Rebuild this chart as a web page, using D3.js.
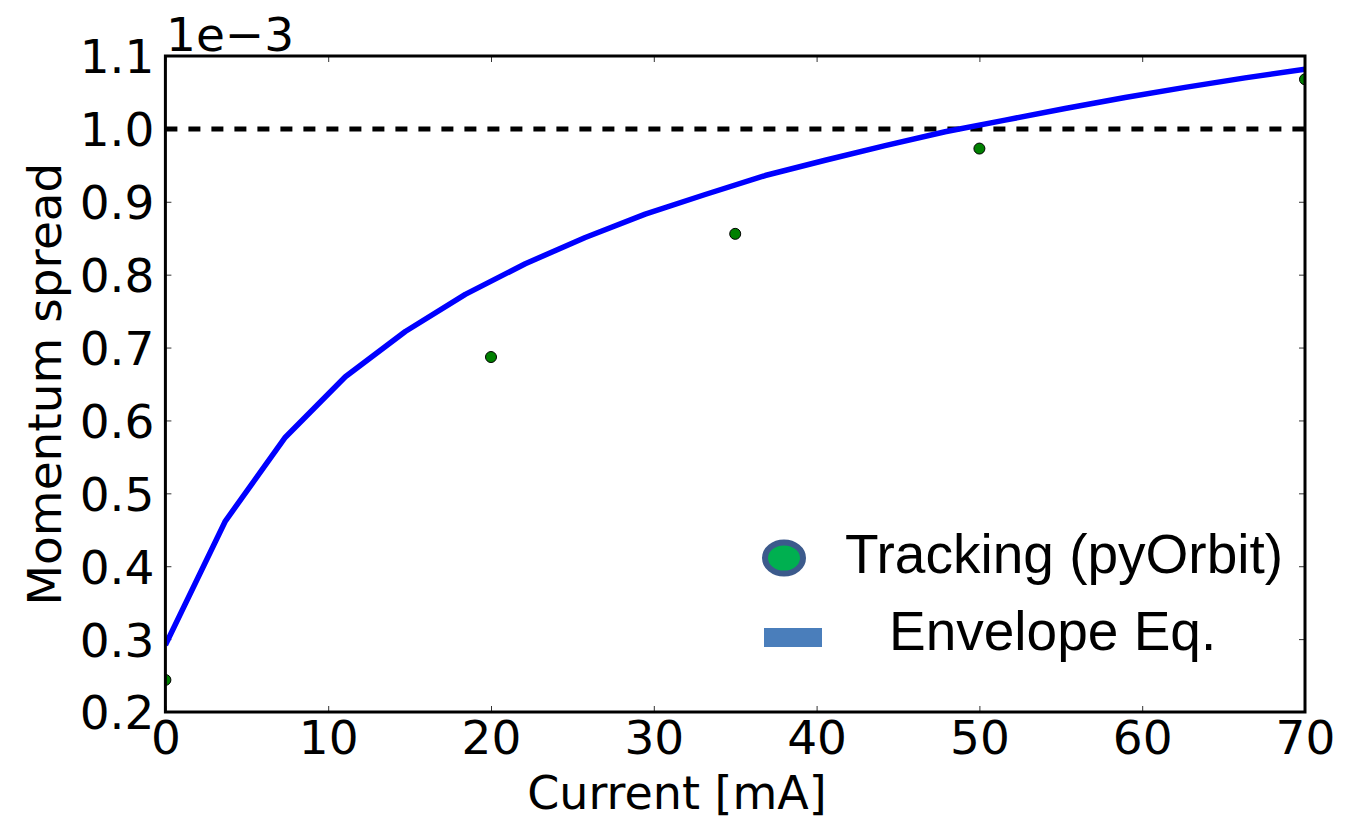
<!DOCTYPE html>
<html>
<head>
<meta charset="utf-8">
<style>
body { margin: 0; background: #fff; }
svg { display: block; }
.tick text { font-family: "DejaVu Sans", sans-serif; font-size: 47px; fill: #000; }
.tick line { stroke: #333; stroke-width: 1; }
.domain { display: none; }
</style>
</head>
<body>
<script src="https://cdn.jsdelivr.net/npm/d3@7/dist/d3.min.js"></script>
<script>
// envelope equation curve, values in units of 1e-3
var envCurrent = d3.range(20).map(function(i) { return i * 70 / 19; });
var envSpread = [0.292, 0.462, 0.577, 0.660, 0.722, 0.773, 0.815, 0.851, 0.883, 0.910,
                 0.936, 0.957, 0.977, 0.996, 1.012, 1.028, 1.043, 1.057, 1.070, 1.082];
// tracking points
var trkCurrent = [0, 20, 35, 50, 70];
var trkSpread = [0.244, 0.687, 0.856, 0.973, 1.068];
var limitSpread = 1.0;

var xTicks = [0, 10, 20, 30, 40, 50, 60, 70];
var yTicks = [0.2, 0.3, 0.4, 0.5, 0.6, 0.7, 0.8, 0.9, 1.0, 1.1];
var legendLabels = ["Tracking (pyOrbit)", "Envelope Eq."];

var W = 1367, H = 820;
var margin = {top: 56, right: 62, bottom: 108, left: 165.4};
var width = W - margin.left - margin.right,
    height = H - margin.top - margin.bottom;

var svg = d3.select("body").append("svg")
    .attr("width", W)
    .attr("height", H);

var x = d3.scaleLinear().domain([0, 70]).range([0, width]);
var y = d3.scaleLinear().domain([0.2, 1.1]).range([height, 0]);

var g = svg.append("g")
    .attr("transform", "translate(" + margin.left + "," + margin.top + ")");

g.append("clipPath").attr("id", "clip")
  .append("rect").attr("width", width).attr("height", height);

// axes (ticks pointing inwards)
g.append("g")
    .attr("class", "x axis")
    .attr("transform", "translate(0," + height + ")")
    .call(d3.axisBottom(x).tickValues(xTicks).tickSize(-6).tickPadding(9).tickFormat(d3.format("d")));
g.append("g")
    .attr("class", "x axis")
    .call(d3.axisTop(x).tickValues(xTicks).tickSize(-6).tickFormat(""));
g.append("g")
    .attr("class", "y axis")
    .call(d3.axisLeft(y).tickValues(yTicks).tickSize(-6).tickPadding(11).tickFormat(d3.format(".1f")));
g.append("g")
    .attr("class", "y axis")
    .attr("transform", "translate(" + width + ",0)")
    .call(d3.axisRight(y).tickValues(yTicks).tickSize(-6).tickFormat(""));

g.selectAll(".y.axis .tick text").attr("dy", "0.36em");
g.selectAll(".x.axis .tick text").attr("dy", "0.71em");

var plot = g.append("g").attr("clip-path", "url(#clip)");

// limit
plot.append("line")
    .attr("x1", 0).attr("x2", width)
    .attr("y1", y(limitSpread)).attr("y2", y(limitSpread))
    .attr("stroke", "#000")
    .attr("stroke-width", 5)
    .attr("stroke-dasharray", "12,11");

var line = d3.line()
    .x(function(d, i) { return x(envCurrent[i]); })
    .y(function(d) { return y(d); });

plot.append("path")
    .datum(envSpread)
    .attr("d", line)
    .attr("fill", "none")
    .attr("stroke", "#0000ff")
    .attr("stroke-width", 5.5)
    .attr("stroke-linejoin", "round");

plot.selectAll(".pt")
    .data(trkSpread)
    .enter().append("circle")
    .attr("class", "pt")
    .attr("cx", function(d, i) { return x(trkCurrent[i]); })
    .attr("cy", function(d) { return y(d); })
    .attr("r", 5.5)
    .attr("fill", "#008000")
    .attr("stroke", "#000")
    .attr("stroke-width", 1);

// frame
g.append("rect")
    .attr("width", width).attr("height", height)
    .attr("fill", "none")
    .attr("stroke", "#000")
    .attr("stroke-width", 3);

// offset text
svg.append("text")
    .attr("x", 166).attr("y", 51)
    .style("font-family", "DejaVu Sans, sans-serif")
    .style("font-size", "47px")
    .text("1e\u22123");

// axis labels
svg.append("text")
    .attr("x", 677).attr("y", 809)
    .attr("text-anchor", "middle")
    .style("font-family", "DejaVu Sans, sans-serif")
    .style("font-size", "46px")
    .text("Current [mA]");

svg.append("text")
    .attr("transform", "translate(61," + (margin.top + height / 2) + ") rotate(-90)")
    .attr("text-anchor", "middle")
    .style("font-family", "DejaVu Sans, sans-serif")
    .style("font-size", "47px")
    .text("Momentum spread");

// legend (pasted-in style)
var leg = svg.append("g");
leg.append("ellipse")
    .attr("cx", 784).attr("cy", 558)
    .attr("rx", 19).attr("ry", 15.5)
    .attr("fill", "#00b050")
    .attr("stroke", "#3c5a8c")
    .attr("stroke-width", 6);
leg.append("rect")
    .attr("x", 764).attr("y", 628)
    .attr("width", 58).attr("height", 19)
    .attr("fill", "#4a7ebb");
leg.selectAll("text.lg")
    .data(legendLabels)
    .enter().append("text")
    .attr("class", "lg")
    .attr("x", function(d, i) { return i === 0 ? 845 : 889; })
    .attr("y", function(d, i) { return i === 0 ? 573 : 650; })
    .style("font-family", "Liberation Sans, Arial, sans-serif")
    .style("font-size", "55px")
    .text(function(d) { return d; });
</script>
</body>
</html>
